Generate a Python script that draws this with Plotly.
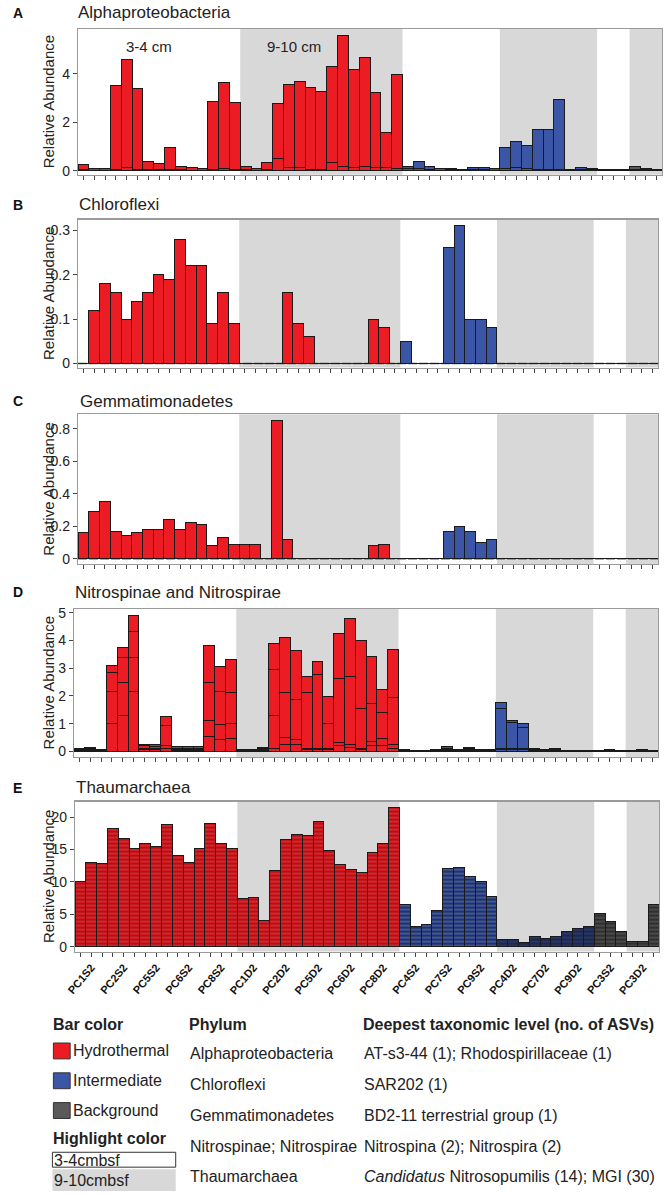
import plotly.graph_objects as go

# ---------------- data ----------------
samples = ["PC1S2", "PC2S2", "PC5S2", "PC6S2", "PC8S2",
           "PC1D2", "PC2D2", "PC5D2", "PC6D2", "PC8D2",
           "PC4S2", "PC7S2", "PC9S2",
           "PC4D2", "PC7D2", "PC9D2",
           "PC3S2", "PC3D2"]
sample_type = ["Hydrothermal"] * 10 + ["Intermediate"] * 6 + ["Background"] * 2
replicates = [1, 2, 3]

# A: Alphaproteobacteria (2 ASVs) - lower ASV and bar total
alpha_lower = [0.05, 0.03, 0.03, 0.05, 0.13, 0.05, 0.05, 0.04, 0.08, 0.04, 0.03, 0.03, 0.07, 0.12, 0.05,
               0.04, 0.03, 0.05, 0.50, 0.15, 0.15, 0.08, 0.08, 0.33, 0.18, 0.15, 0.18, 0.15, 0.15, 0.12,
               0.10, 0.10, 0.05, 0.03, 0.04, 0.03, 0.05, 0.05, 0.03,
               0.12, 0.15, 0.10, 0.08, 0.08, 0.07, 0.02, 0.05, 0.04,
               0.03, 0.03, 0.02, 0.07, 0.04, 0.03]
alpha_total = [0.25, 0.10, 0.10, 3.52, 4.60, 3.39, 0.40, 0.30, 0.95, 0.19, 0.15, 0.12, 2.87, 3.63, 2.80,
               0.18, 0.12, 0.36, 2.78, 3.56, 3.68, 3.43, 3.25, 4.29, 5.58, 4.15, 4.68, 3.22, 1.60, 3.97,
               0.20, 0.40, 0.18, 0.10, 0.12, 0.08, 0.14, 0.14, 0.10,
               0.98, 1.20, 1.03, 1.69, 1.69, 2.94, 0.06, 0.15, 0.11,
               0.08, 0.08, 0.06, 0.20, 0.10, 0.07]

# B: Chloroflexi (SAR202)
chloro = [0, 0.12, 0.18, 0.16, 0.10, 0.14, 0.16, 0.20, 0.19, 0.28, 0.22, 0.22, 0.09, 0.16, 0.09,
          0, 0, 0, 0, 0.16, 0.09, 0.06, 0, 0, 0, 0, 0, 0.10, 0.08, 0,
          0.05, 0, 0, 0, 0.26, 0.31, 0.10, 0.10, 0.08,
          0, 0, 0, 0, 0, 0, 0, 0, 0,
          0, 0, 0, 0, 0, 0]

# C: Gemmatimonadetes (BD2-11)
gemma = [0.16, 0.29, 0.35, 0.17, 0.14, 0.16, 0.18, 0.18, 0.24, 0.18, 0.22, 0.21, 0.08, 0.13, 0.09,
         0.09, 0.09, 0, 0.85, 0.12, 0, 0, 0, 0, 0, 0, 0, 0.08, 0.09, 0,
         0, 0, 0, 0, 0.17, 0.20, 0.17, 0.10, 0.12,
         0, 0, 0, 0, 0, 0, 0, 0, 0,
         0, 0, 0, 0, 0, 0]

# D: Nitrospinae / Nitrospirae (4 ASVs), cumulative stack boundaries per bar
nitro_b1 = [0.03, 0.04, 0.02, 1.00, 1.30, 2.17, 0.05, 0.05, 0.12, 0.04, 0.04, 0.04, 0.54, 0.44, 0.48,
            0.02, 0.02, 0.03, 0.10, 0.24, 0.24, 0.06, 0.06, 0.05, 0.20, 0.14, 0.05, 0.20, 0.20, 0.10,
            0.02, 0.01, 0.01, 0.02, 0.04, 0.02, 0.03, 0.02, 0.02,
            0.05, 0.05, 0.05, 0.03, 0.01, 0.03, 0.01, 0.01, 0.01,
            0.01, 0.02, 0.01, 0.01, 0.02, 0.01]
nitro_b2 = [0.05, 0.08, 0.04, 2.15, 2.48, 3.39, 0.10, 0.10, 0.20, 0.08, 0.08, 0.08, 1.10, 0.97, 1.00,
            0.04, 0.04, 0.06, 1.30, 0.50, 0.43, 0.10, 0.10, 0.10, 0.32, 0.24, 0.10, 0.34, 0.48, 0.26,
            0.04, 0.02, 0.02, 0.04, 0.08, 0.04, 0.06, 0.04, 0.04,
            0.10, 0.10, 0.10, 0.06, 0.02, 0.06, 0.02, 0.02, 0.02,
            0.02, 0.04, 0.02, 0.02, 0.04, 0.02]
nitro_b3 = [0.07, 0.12, 0.06, 2.85, 3.40, 4.33, 0.20, 0.18, 0.94, 0.12, 0.12, 0.12, 2.47, 2.16, 2.14,
            0.06, 0.06, 0.10, 2.94, 2.12, 1.87, 2.11, 2.76, 1.00, 2.64, 2.71, 1.54, 1.73, 1.40, 1.95,
            0.06, 0.025, 0.025, 0.05, 0.12, 0.06, 0.10, 0.05, 0.05,
            1.54, 1.04, 0.86, 0.09, 0.04, 0.09, 0.025, 0.025, 0.025,
            0.025, 0.05, 0.025, 0.025, 0.05, 0.025]
nitro_total = [0.10, 0.15, 0.08, 3.09, 3.76, 4.90, 0.25, 0.24, 1.25, 0.18, 0.18, 0.18, 3.83, 3.07, 3.32,
               0.08, 0.08, 0.13, 3.89, 4.11, 3.64, 2.70, 3.25, 1.97, 4.25, 4.78, 4.01, 3.42, 2.24, 3.66,
               0.08, 0.03, 0.03, 0.07, 0.17, 0.08, 0.13, 0.07, 0.07,
               1.78, 1.10, 0.99, 0.12, 0.05, 0.12, 0.03, 0.03, 0.03,
               0.03, 0.06, 0.03, 0.03, 0.07, 0.03]

# E: Thaumarchaea (bar totals)
thaum = [10.1, 13.0, 12.9, 18.3, 16.7, 15.2, 16.0, 15.4, 18.8, 14.1, 13.0, 15.2, 19.0, 16.0, 15.2,
         7.4, 7.6, 4.0, 11.7, 16.5, 17.3, 17.1, 19.4, 14.9, 12.7, 11.9, 11.4, 14.5, 15.9, 21.5,
         6.5, 3.1, 3.4, 5.6, 12.0, 12.2, 10.8, 10.1, 7.8,
         1.1, 1.1, 0.7, 1.5, 1.3, 1.5, 2.4, 2.8, 3.1,
         5.1, 3.9, 2.4, 0.8, 0.8, 6.5]

phyla = ["Alphaproteobacteria", "Chloroflexi", "Gemmatimonadetes",
         "Nitrospinae; Nitrospirae", "Thaumarchaea"]
taxa = ["AT-s3-44 (1); Rhodospirillaceae (1)", "SAR202 (1)", "BD2-11 terrestrial group (1)",
        "Nitrospina (2); Nitrospira (2)", "<i>Candidatus</i> Nitrosopumilis (14); MGI (30)"]
panel_titles = ["Alphaproteobacteria", "Chloroflexi", "Gemmatimonadetes",
                "Nitrospinae and Nitrospirae", "Thaumarchaea"]
panel_letters = ["A", "B", "C", "D", "E"]
bar_color_labels = ["Hydrothermal", "Intermediate", "Background"]
highlight_labels = ["3-4cmbsf", "9-10cmbsf"]
depth_labels = ["3-4 cm", "9-10 cm"]

# ---------------- styling ----------------
W, H = 666, 1196
FONT = "Arial, Liberation Sans, sans-serif"
type_color = {"Hydrothermal": "#ec1c24", "Intermediate": "#3b56a6", "Background": "#5a5a5a"}
BAND = "#d9d8d8"
EDGE = "#1a1a1a"
TXT = "#222222"

cats = [f"{s}_{r}" for s in samples for r in replicates]
bar_types = [t for t in sample_type for _ in replicates]
bar_colors = [type_color[t] for t in bar_types]
deep = [s.endswith("D2") for s in samples for _ in replicates]
tick_text = [s if r == 2 else "" for s in samples for r in replicates]

# panel boxes in pixels: (left, right, top, bottom), y ranges
boxes = [(70, 662, 25, 172), (70, 658, 217, 366), (70, 658, 413, 564),
         (66, 658, 609, 758), (67, 659, 803, 954)]
title_y = [9, 202, 400, 592, 789]
title_x = [70, 71, 72, 67, 68]
yranges = [[-0.16, 5.84], [-0.009, 0.324], [-0.034, 0.889], [-0.2, 5.14], [-0.77, 22.4]]
ytickvals = [[0, 2, 4], [0, 0.1, 0.2, 0.3], [0, 0.2, 0.4, 0.6, 0.8], [0, 1, 2, 3, 4, 5],
             [0, 5, 10, 15, 20]]


def sid(k):
    return "" if k == 1 else str(k)


fig = go.Figure()


def add_bar(k, y, colors=None, **kw):
    fig.add_trace(go.Bar(
        x=cats, y=y, xaxis=f"x{sid(k)}", yaxis=f"y{sid(k)}",
        marker=dict(color=colors or bar_colors, line=dict(color=EDGE, width=1), **kw),
        showlegend=False, hoverinfo="y"))


# A
alpha_upper = [round(t - l, 3) for t, l in zip(alpha_total, alpha_lower)]
add_bar(1, alpha_lower)
add_bar(1, alpha_upper)
# B, C
add_bar(2, chloro)
add_bar(3, gemma)
# D
segs = [nitro_b1,
        [b - a for a, b in zip(nitro_b1, nitro_b2)],
        [b - a for a, b in zip(nitro_b2, nitro_b3)],
        [b - a for a, b in zip(nitro_b3, nitro_total)]]
for s in segs:
    add_bar(4, s)

# E: many stacked ASVs suggested by a striped fill; one trace per bar colour group
e_groups = [("Hydrothermal", None, "#ec1c24", 0.35),
            ("Intermediate", False, "#3b56a6", 0.5),
            ("Intermediate", True, "#2a3f80", 0.7),
            ("Background", None, "#4f4f4f", 0.6)]
for gtype, gdeep, gcol, gsol in e_groups:
    vals = [v if (t == gtype and (gdeep is None or d == gdeep)) else None
            for v, t, d in zip(thaum, bar_types, deep)]
    add_bar(5, vals, colors=gcol,
            pattern=dict(shape="-", fgcolor="#111111", size=4, solidity=gsol,
                         fillmode="overlay"))

layout = dict(width=W, height=H, margin=dict(l=0, r=0, t=0, b=0),
              paper_bgcolor="white", plot_bgcolor="white",
              barmode="stack", bargap=0, font=dict(family=FONT, color=TXT, size=13))

shapes = []
annotations = []

# contiguous deep (9-10 cm) runs
runs = []
i = 0
while i < len(deep):
    if deep[i]:
        j = i
        while j + 1 < len(deep) and deep[j + 1]:
            j += 1
        runs.append((i, j))
        i = j + 1
    else:
        i += 1

for k in range(1, 6):
    l, r, t, b = boxes[k - 1]
    xa, ya = f"x{sid(k)}", f"y{sid(k)}"
    layout[f"xaxis{sid(k)}"] = dict(
        domain=[l / W, r / W], anchor=ya, type="category",
        categoryorder="array", categoryarray=cats, range=[-0.5, len(cats) - 0.5],
        tickmode="array", tickvals=cats,
        ticktext=tick_text if k == 5 else [""] * len(cats),
        showticklabels=(k == 5), ticks="outside", ticklen=4, tickcolor="#444", tickwidth=1,
        showline=True, linecolor="#9a9a9a", linewidth=1.2, mirror=True, showgrid=False,
        tickangle=-50, tickfont=dict(family=FONT, size=11, color="#111", weight="bold"),
        fixedrange=True)
    layout[f"yaxis{sid(k)}"] = dict(
        domain=[1 - b / H, 1 - t / H], anchor=xa, range=yranges[k - 1],
        tickmode="array", tickvals=ytickvals[k - 1], ticks="outside", ticklen=4,
        tickcolor="#444", showline=True, linecolor="#9a9a9a", linewidth=1.2, mirror=True,
        showgrid=False, zeroline=False, tickfont=dict(family=FONT, size=14, color=TXT),
        fixedrange=True)
    for (a, c) in runs:
        shapes.append(dict(type="rect", xref=xa, yref=f"{ya} domain",
                           x0=a - 0.5, x1=c + 0.5, y0=0, y1=1, fillcolor=BAND,
                           line=dict(width=0), layer="below"))
    if k in (2, 3):
        shapes.append(dict(type="line", xref=xa, yref=ya, x0=-0.5, x1=len(cats) - 0.5,
                           y0=0, y1=0, line=dict(color="#555", width=1.6, dash="9px,2px"),
                           layer="below"))
    # panel letter & title
    ty = title_y[k - 1]
    annotations.append(dict(text=f"<b>{panel_letters[k-1]}</b>", x=2 / W, y=1 - ty / H,
                            xref="paper", yref="paper", xanchor="left", yanchor="middle",
                            showarrow=False, font=dict(size=14, family=FONT, color="#111")))
    annotations.append(dict(text=panel_titles[k - 1], x=(title_x[k - 1] - 2) / W, y=1 - ty / H,
                            xref="paper", yref="paper", xanchor="left", yanchor="middle",
                            showarrow=False, font=dict(size=17, family=FONT, color=TXT)))
    annotations.append(dict(text="Relative Abundance", x=40 / W, y=1 - ((t + b) / 2) / H,
                            xref="paper", yref="paper", xanchor="center", yanchor="middle",
                            textangle=-90, showarrow=False,
                            font=dict(size=15, family=FONT, color=TXT)))

# depth labels in panel A
annotations.append(dict(text=depth_labels[0], x=6.1, y=5.1, xref="x", yref="y", showarrow=False,
                        font=dict(size=15, family=FONT, color=TXT)))
annotations.append(dict(text=depth_labels[1], x=19.5, y=5.1, xref="x", yref="y", showarrow=False,
                        font=dict(size=15, family=FONT, color=TXT)))


# ---------------- bottom legend ----------------
def txt(s, x, y, size=16, bold=False):
    annotations.append(dict(text=f"<b>{s}</b>" if bold else s, x=(x - 2) / W, y=1 - y / H,
                            xref="paper", yref="paper", xanchor="left", yanchor="middle",
                            showarrow=False, font=dict(size=size, family=FONT, color=TXT)))


txt("Bar color", 45, 1027, 16, True)
txt("Phylum", 182, 1027, 16, True)
txt("Deepest taxonomic level (no. of ASVs)", 359, 1027, 16, True)
legend_rows = [1054, 1084, 1114]
for name, yy in zip(bar_color_labels, legend_rows):
    shapes.append(dict(type="rect", xref="paper", yref="paper", x0=45 / W, x1=62 / W,
                       y0=1 - (yy + 8) / H, y1=1 - (yy - 8) / H, fillcolor=type_color[name],
                       line=dict(color="#333", width=1)))
    txt(name, 65, yy, 16)
txt("Highlight color", 45, 1142, 16, True)
shapes.append(dict(type="rect", xref="paper", yref="paper", x0=44 / W, x1=169 / W,
                   y0=1 - 1171 / H, y1=1 - 1156 / H, fillcolor="white",
                   line=dict(color="#333", width=1)))
txt(highlight_labels[0], 46, 1164, 16)
shapes.append(dict(type="rect", xref="paper", yref="paper", x0=44 / W, x1=169 / W,
                   y0=1 - 1195 / H, y1=1 - 1173 / H, fillcolor=BAND, line=dict(width=0)))
txt(highlight_labels[1], 46, 1184, 16)
phy_rows = [1057, 1088, 1119, 1150, 1180]
for p, tx, yy in zip(phyla, taxa, phy_rows):
    txt(p, 183, yy, 16)
    txt(tx, 360, yy, 16)

layout["shapes"] = shapes
layout["annotations"] = annotations
fig.update_layout(**layout)
fig.write_html("out.html", config={"displayModeBar": False, "staticPlot": True},
               post_script="document.body.style.margin='0';document.body.style.overflow='hidden';")
